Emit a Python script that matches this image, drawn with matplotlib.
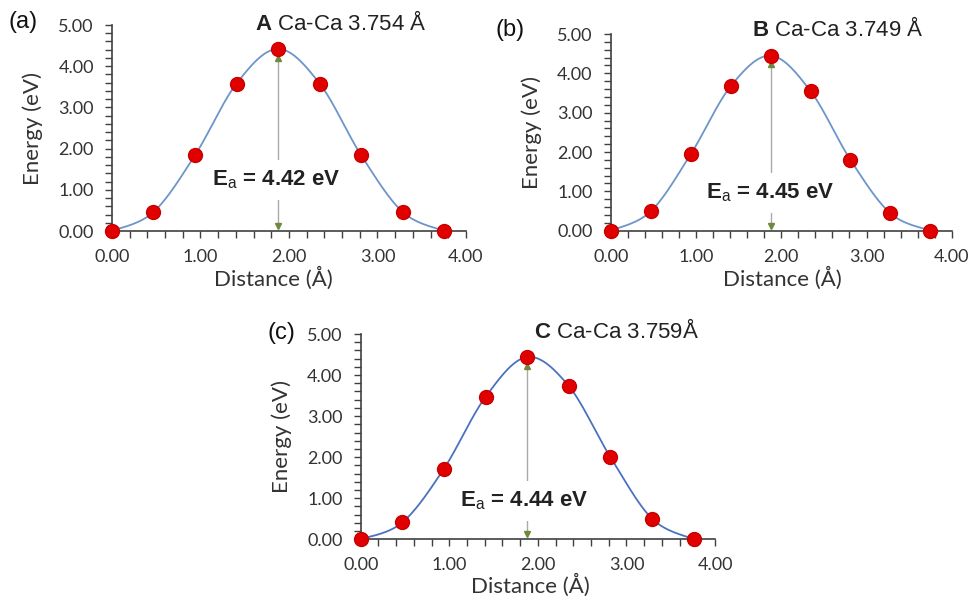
import numpy as np
import matplotlib
matplotlib.use("Agg")
import matplotlib.pyplot as plt
from matplotlib.ticker import MultipleLocator, FormatStrFormatter

plt.rcParams['font.family'] = ['Liberation Sans', 'DejaVu Sans']
plt.rcParams['mathtext.fontset'] = 'custom'
plt.rcParams['mathtext.rm'] = 'Liberation Sans'
plt.rcParams['mathtext.bf'] = 'Liberation Sans:bold'
plt.rcParams['mathtext.it'] = 'Liberation Sans:italic'

# Ca-Ca separations (end point of each path)
dist_a = 3.754
dist_b = 3.749
dist_c = 3.759

# energies along the path (eV), 9 images each
energy_a = [0.00, 0.46, 1.84, 3.58, 4.42, 3.58, 1.84, 0.46, 0.00]
energy_b = [0.00, 0.49, 1.94, 3.67, 4.45, 3.55, 1.80, 0.44, 0.00]
energy_c = [0.00, 0.41, 1.72, 3.47, 4.44, 3.73, 2.00, 0.50, 0.00]

panel_labels = ['(a)', '(b)', '(c)']
titles = [r'$\mathbf{A}$ Ca-Ca 3.754 Å', r'$\mathbf{B}$ Ca-Ca 3.749 Å', r'$\mathbf{C}$ Ca-Ca 3.759Å']
barriers = [r'E$_{\mathrm{a}}$ = 4.42 eV', r'E$_{\mathrm{a}}$ = 4.45 eV',
            r'E$_{\mathrm{a}}$ = 4.44 eV']


def smooth(x, y, n=30):
    # catmull-rom style smoothing like excel's smoothed line
    x = np.asarray(x, float)
    y = np.asarray(y, float)
    px = np.concatenate([[x[0]], x, [x[-1]]])
    py = np.concatenate([[y[0]], y, [y[-1]]])
    t = np.linspace(0, 1, n)
    ox, oy = [], []
    for i in range(1, len(px) - 2):
        for p, out in ((px, ox), (py, oy)):
            p0, p1, p2, p3 = p[i - 1], p[i], p[i + 1], p[i + 2]
            out.extend(0.5 * ((2 * p1) + (-p0 + p2) * t + (2 * p0 - 5 * p1 + 4 * p2 - p3) * t ** 2
                              + (-p0 + 3 * p1 - 3 * p2 + p3) * t ** 3))
    return np.array(ox), np.array(oy)


fig = plt.figure(figsize=(9.71, 6.0), dpi=100)

boxes = [[0.1153, 0.615, 0.3646, 0.3433],
         [0.629, 0.6155, 0.3512, 0.3278],
         [0.3715, 0.1012, 0.3649, 0.3421]]
line_cols = ['#6D95C9', '#6D95C9', '#4A72C0']
title_pos = [(2.59, 5.05), (2.66, 5.13), (2.89, 5.07)]
text_pos = [(1.86, 1.24), (1.87, 0.96), (1.84, 0.93)]
ylab_pos = [(-0.223, 0.5), (-0.232, 0.5), (-0.223, 0.5)]
xlab_pos = [(0.455, -0.23), (0.504, -0.24), (0.48, -0.223)]
plab_pos = [(0.009, 0.963), (0.51, 0.950), (0.276, 0.445)]

for i, (dist, energy) in enumerate([(dist_a, energy_a), (dist_b, energy_b), (dist_c, energy_c)]):
    ax = fig.add_axes(boxes[i])
    xs = np.linspace(0, dist, len(energy))
    sx, sy = smooth(xs, energy)
    ax.plot(sx, sy, color=line_cols[i], lw=1.3, zorder=2)
    ax.plot(xs, energy, 'o', color='#E00000', markeredgecolor='#C80000', markersize=10, zorder=4, clip_on=False)

    # barrier arrow
    peak = max(energy)
    px = xs[int(np.argmax(energy))]
    ax.plot([px, px], [0.12, peak - 0.22], color='#AAAAAA', lw=1.0, zorder=1)
    ax.plot(px, peak - 0.22, marker='^', color='#6E8B3D', markersize=5, zorder=3)
    ax.plot(px, 0.12, marker='v', color='#6E8B3D', markersize=5, zorder=3)
    ax.text(text_pos[i][0], text_pos[i][1], barriers[i], fontsize=16, fontweight='bold',
            ha='center', va='center', color='#222222', zorder=3,
            bbox=dict(facecolor='white', edgecolor='none', pad=6))

    ax.text(title_pos[i][0], title_pos[i][1], titles[i], fontsize=16, ha='center', va='center',
            color='#222222')
    fig.text(plab_pos[i][0], plab_pos[i][1], panel_labels[i], fontsize=17, color='#111111',
             va='center')

    ax.set_xlim(0, 4)
    ax.set_ylim(0, 5)
    ax.xaxis.set_major_locator(MultipleLocator(1))
    ax.xaxis.set_minor_locator(MultipleLocator(0.2))
    ax.yaxis.set_major_locator(MultipleLocator(1))
    ax.yaxis.set_minor_locator(MultipleLocator(0.2))
    ax.xaxis.set_major_formatter(FormatStrFormatter('%.2f'))
    ax.yaxis.set_major_formatter(FormatStrFormatter('%.2f'))
    for s in ['top', 'right']:
        ax.spines[s].set_visible(False)
    for s in ['left', 'bottom']:
        ax.spines[s].set_color('#404040')
        ax.spines[s].set_linewidth(1.2)
    ax.tick_params(which='both', direction='out', length=5, width=1.0, color='#404040')
    ax.tick_params(axis='x', which='major', pad=8)
    ax.tick_params(axis='y', which='major', pad=8)
    for lab in ax.get_xticklabels() + ax.get_yticklabels():
        lab.set_fontfamily(['Lato', 'DejaVu Sans'])
        lab.set_fontsize(13)
        lab.set_color('#333333')

    ax.set_ylabel('Energy (eV)', fontsize=16, family=['Lato', 'DejaVu Sans'], color='#333333')
    ax.set_xlabel('Distance (Å)', fontsize=16, family=['Lato', 'DejaVu Sans'], color='#333333')
    ax.yaxis.set_label_coords(*ylab_pos[i])
    ax.xaxis.set_label_coords(*xlab_pos[i])
    ax.xaxis.label.set_va('center')
    ax.yaxis.label.set_va('center')

fig.savefig('out.png', dpi=100)
